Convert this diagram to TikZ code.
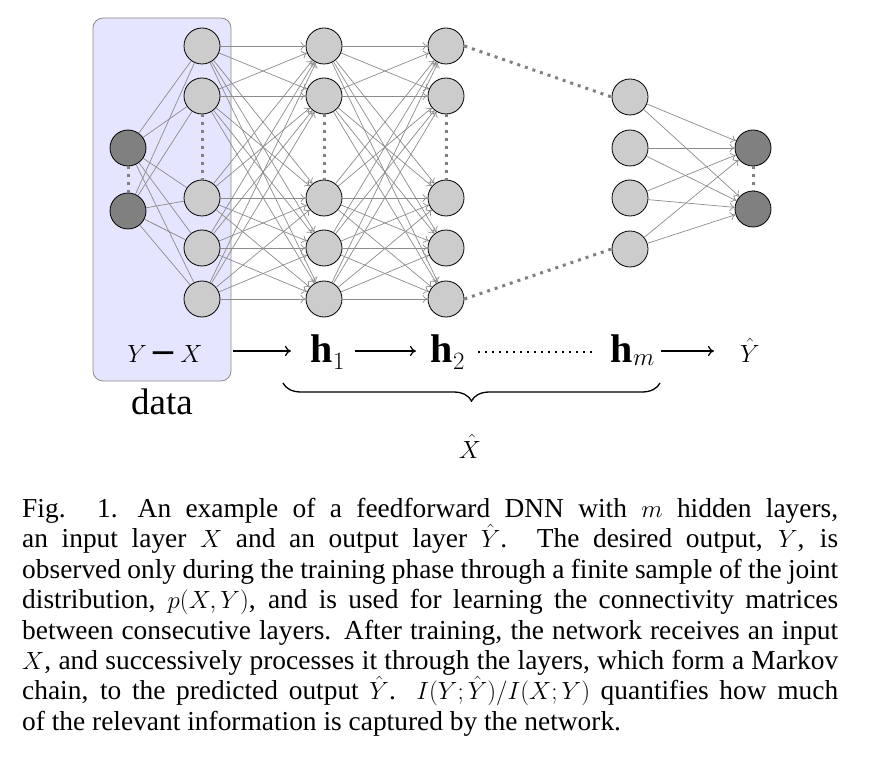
\documentclass[tikz,border=0pt]{standalone}
\usepackage{fontspec}
\setmainfont{Liberation Serif}
\usetikzlibrary{decorations.pathreplacing,arrows.meta}
\begin{document}
\begin{tikzpicture}[x=1pt,y=-1pt,
  neu/.style={circle,draw=black,thick,fill=black!20,minimum size=36pt,inner sep=0},
  dneu/.style={neu,fill=black!50},
  conn/.style={draw=black!45,line width=0.7pt},
  aconn/.style={conn,-{To[length=5pt,width=8pt]}},
  vdots/.style={draw=black!50,line width=3pt,dash pattern=on 3pt off 5pt},
  lab/.style={font=\fontsize{40}{46}\selectfont,inner sep=0,anchor=base}]
\useasboundingbox (0,0) rectangle (878,759);
\draw[black!45,fill=blue!10,rounded corners=10pt,line width=0.8pt] (93,18) rectangle (231,381);
% Y nodes
\node[dneu] (y1) at (128,148) {};
\node[dneu] (y2) at (128,211) {};
\foreach \i/\yy in {1/46,2/96,3/198,4/248,5/299}{
  \node[neu] (x\i) at (202,\yy) {};
  \node[neu] (a\i) at (324,\yy) {};
  \node[neu] (b\i) at (446,\yy) {};
}
\foreach \i/\yy in {1/97,2/148,3/198,4/249}{ \node[neu] (m\i) at (630,\yy) {}; }
\node[dneu] (o1) at (753,148) {};
\node[dneu] (o2) at (753,209) {};
\foreach \i in {1,...,5}{
  \foreach \j in {1,2}{ \draw[conn] (y\j) -- (x\i); }
  \foreach \k in {1,...,5}{
    \draw[aconn] (x\i) -- (a\k);
    \draw[aconn] (a\i) -- (b\k);
  }
}
\foreach \i in {1,...,4}{ \foreach \j in {1,2}{ \draw[aconn] (m\i) -- (o\j); } }
\draw[vdots] (y1.south) -- (y2.north);
\draw[vdots] (o1.south) -- (o2.north);
\draw[vdots] (x2.south) -- (x3.north);
\draw[vdots] (a2.south) -- (a3.north);
\draw[vdots] (b2.south) -- (b3.north);
\draw[vdots] (b1.east) -- (m1.west);
\draw[vdots] (b5.east) -- (m4.west);
% labels
\node[lab] (lyx) at (165,362) {$Y$\,\textbf{–}\,$X$};
\node[lab] (lh1) at (328,362) {$\mathbf{h}_1$};
\node[lab] (lh2) at (448,362) {$\mathbf{h}_2$};
\node[lab] (lhm) at (633,362) {$\mathbf{h}_m$};
\node[lab] (lyh) at (750,362) {$\hat{Y}$};
\node[font=\fontsize{37}{42}\selectfont,inner sep=0,anchor=base] (data) at (162,414) {data};
\draw[-{To[length=6pt,width=10pt]},line width=1.2pt] (233,351) -- (291,351);
\draw[-{To[length=6pt,width=10pt]},line width=1.2pt] (355,351) -- (416,351);
\draw[-{To[length=6pt,width=10pt]},line width=1.2pt] (661,351) -- (714,351);
\draw[line width=2.4pt,dash pattern=on 2.4pt off 4.6pt] (478,352) -- (596,352);
\draw[decorate,decoration={brace,mirror,amplitude=18pt},line width=1.3pt] (283,383) -- (660,383);
\node[lab,font=\fontsize{32}{36}\selectfont] (xh) at (470,458) {$\hat{X}$};
% caption
\node[anchor=north west,inner sep=0,text width=816pt,align=justify,font=\fontsize{27.4}{30.4}\selectfont] (cap) at (22,498) {%
Fig. 1.\hspace{20pt}An example of a feedforward DNN with $m$ hidden layers,\linebreak
an input layer $X$ and an output layer $\hat{Y}$. The desired output, $Y$, is\linebreak
observed only during the training phase through a finite sample of the joint\linebreak
distribution, $p(X,Y)$, and is used for learning the connectivity matrices\linebreak
between consecutive layers. After training, the network receives an input\linebreak
$X$, and successively processes it through the layers, which form a Markov\linebreak
chain, to the predicted output $\hat{Y}$. $I(Y;\hat{Y})/I(X;Y)$ quantifies how much\linebreak
of the relevant information is captured by the network.};
\end{tikzpicture}
\end{document}
